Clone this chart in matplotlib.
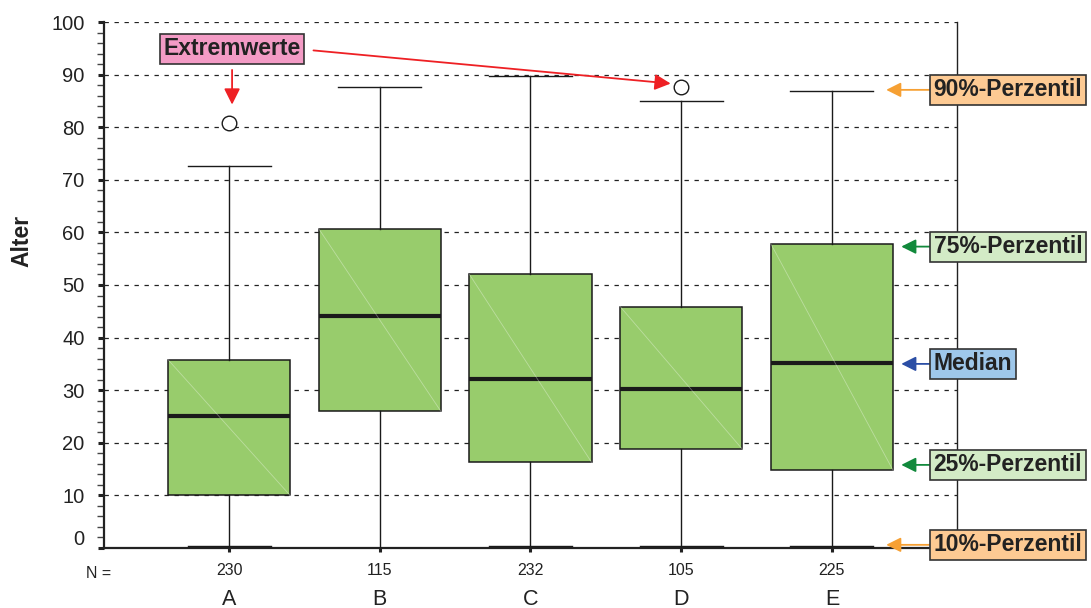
import matplotlib
matplotlib.use("Agg")
import matplotlib.pyplot as plt
from matplotlib.transforms import ScaledTranslation

plt.rcParams['font.family'] = ['Liberation Sans', 'DejaVu Sans']

# Age distribution per group
groups = ["A", "B", "C", "D", "E"]
counts = [230, 115, 232, 105, 225]
q1 = [10, 26, 16.3, 18.8, 14.8]
median = [25.1, 44.1, 32.1, 30.2, 35.2]
q3 = [35.8, 60.7, 52.0, 45.9, 57.8]
whisker_low = [0.3, 0.0, 0.3, 0.3, 0.3]
whisker_high = [72.7, 87.7, 89.8, 84.9, 86.8]
outliers = [[80.8], [], [], [87.7], []]

box_color = "#98CC6C"
positions = list(range(1, len(groups) + 1))

fig = plt.figure(figsize=(10.91, 6.08), dpi=100)
ax = fig.add_axes([0.0953, 0.0987, 0.8772 - 0.0953, 0.9638 - 0.0987])

stats = []
for i, g in enumerate(groups):
    stats.append(dict(label=g, med=median[i], q1=q1[i], q3=q3[i],
                      whislo=whisker_low[i], whishi=whisker_high[i],
                      fliers=outliers[i]))

ax.bxp(stats, positions=positions, widths=0.81, capwidths=0.55,
       patch_artist=True, showfliers=True,
       boxprops=dict(facecolor=box_color, edgecolor="#1a1a1a", linewidth=1.1),
       medianprops=dict(color="#1a1a1a", linewidth=3.0, solid_capstyle="butt"),
       whiskerprops=dict(color="#1a1a1a", linewidth=1.0),
       capprops=dict(color="#1a1a1a", linewidth=1.0),
       flierprops=dict(marker="o", markersize=10.5, markerfacecolor="white",
                       markeredgecolor="#1a1a1a", markeredgewidth=1.0),
       zorder=3)

# faint diagonal sheen across each box
for p, lo, hi in zip(positions, q1, q3):
    ax.plot([p - 0.405, p + 0.405], [hi, lo], color="white", alpha=0.35,
            linewidth=0.6, zorder=3.5)

ax.set_xlim(0.17, 5.83)
ax.set_ylim(0, 100)

ax.set_yticks(range(0, 101, 10))
ax.set_yticks(range(0, 101, 2), minor=True)
ax.tick_params(axis="y", which="major", direction="out", length=4, width=2.2,
               labelsize=14.5, pad=10, color="#222222", labelcolor="#222222")
ax.tick_params(axis="y", which="minor", direction="out", length=5, width=1,
               color="#444444")
ax.yaxis.grid(True, which="major", linestyle=(0, (3.5, 4.5)), color="#222222",
              linewidth=0.9)
ax.set_axisbelow(True)

ax.set_xticks(positions)
ax.set_xticklabels([str(c) for c in counts])
ax.tick_params(axis="x", direction="out", length=3, width=2.2, labelsize=11.5,
               pad=8, color="#222222", labelcolor="#222222")

# shift the "0" label upward slightly
lbl0 = ax.get_yticklabels()[0]
lbl0.set_transform(lbl0.get_transform() + ScaledTranslation(0, 0.10, fig.dpi_scale_trans))

ax.spines["top"].set_visible(False)
ax.spines["left"].set_linewidth(1.6)
ax.spines["bottom"].set_linewidth(1.6)
ax.spines["right"].set_linewidth(1.0)
for s in ["left", "bottom", "right"]:
    ax.spines[s].set_color("#222222")

ax.text(-0.096, 0.584, "Alter", transform=ax.transAxes, rotation=90,
        ha="center", va="center", fontsize=16.5, fontweight="bold",
        color="#222222")

xt = ax.get_xaxis_transform()
ax.text(-0.006, -0.035, "N =", transform=ax.transAxes, ha="center", va="top",
        fontsize=11.5, color="#222222")
for p, g in zip(positions, groups):
    ax.text(p, -0.097, g, transform=xt, ha="center", va="center", fontsize=15.5,
            color="#222222")

def label_box(face):
    return dict(boxstyle="square,pad=0.15", facecolor=face, edgecolor="#333333",
                linewidth=1.2)

text_kw = dict(fontsize=16.5, fontweight="bold", color="#222222",
               annotation_clip=False)

# outlier callout
ax.annotate("Extremwerte", xy=(1.02, 84.3), xytext=(1.02, 94.9),
            ha="center", va="center", bbox=label_box("#F39BC5"),
            arrowprops=dict(arrowstyle="-|>", color="#EE2024", lw=1.3,
                            mutation_scale=24, shrinkA=4, shrinkB=0),
            **text_kw)
ax.annotate("", xy=(3.93, 88.3), xytext=(1.56, 94.6),
            arrowprops=dict(arrowstyle="-|>", color="#EE2024", lw=1.3,
                            mutation_scale=24, shrinkA=0, shrinkB=0),
            annotation_clip=False)

# percentile callouts on the right
callouts = [
    ("90%-Perzentil", 87.1, 5.36, "#FDCA93", "#F6A033"),
    ("75%-Perzentil", 57.3, 5.46, "#D3EBC6", "#12893C"),
    ("Median", 35.0, 5.46, "#9EC7EA", "#2B4EA5"),
    ("25%-Perzentil", 15.8, 5.46, "#D3EBC6", "#12893C"),
    ("10%-Perzentil", 0.6, 5.36, "#FDCA93", "#F6A033"),
]
for txt, yv, tip, face, acol in callouts:
    ax.annotate(txt, xy=(tip, yv), xytext=(5.675, yv), ha="left", va="center",
                bbox=label_box(face),
                arrowprops=dict(arrowstyle="-|>", color=acol, lw=1.3,
                                mutation_scale=22, shrinkA=0, shrinkB=0),
                **text_kw)

fig.savefig("out.png", dpi=100)
